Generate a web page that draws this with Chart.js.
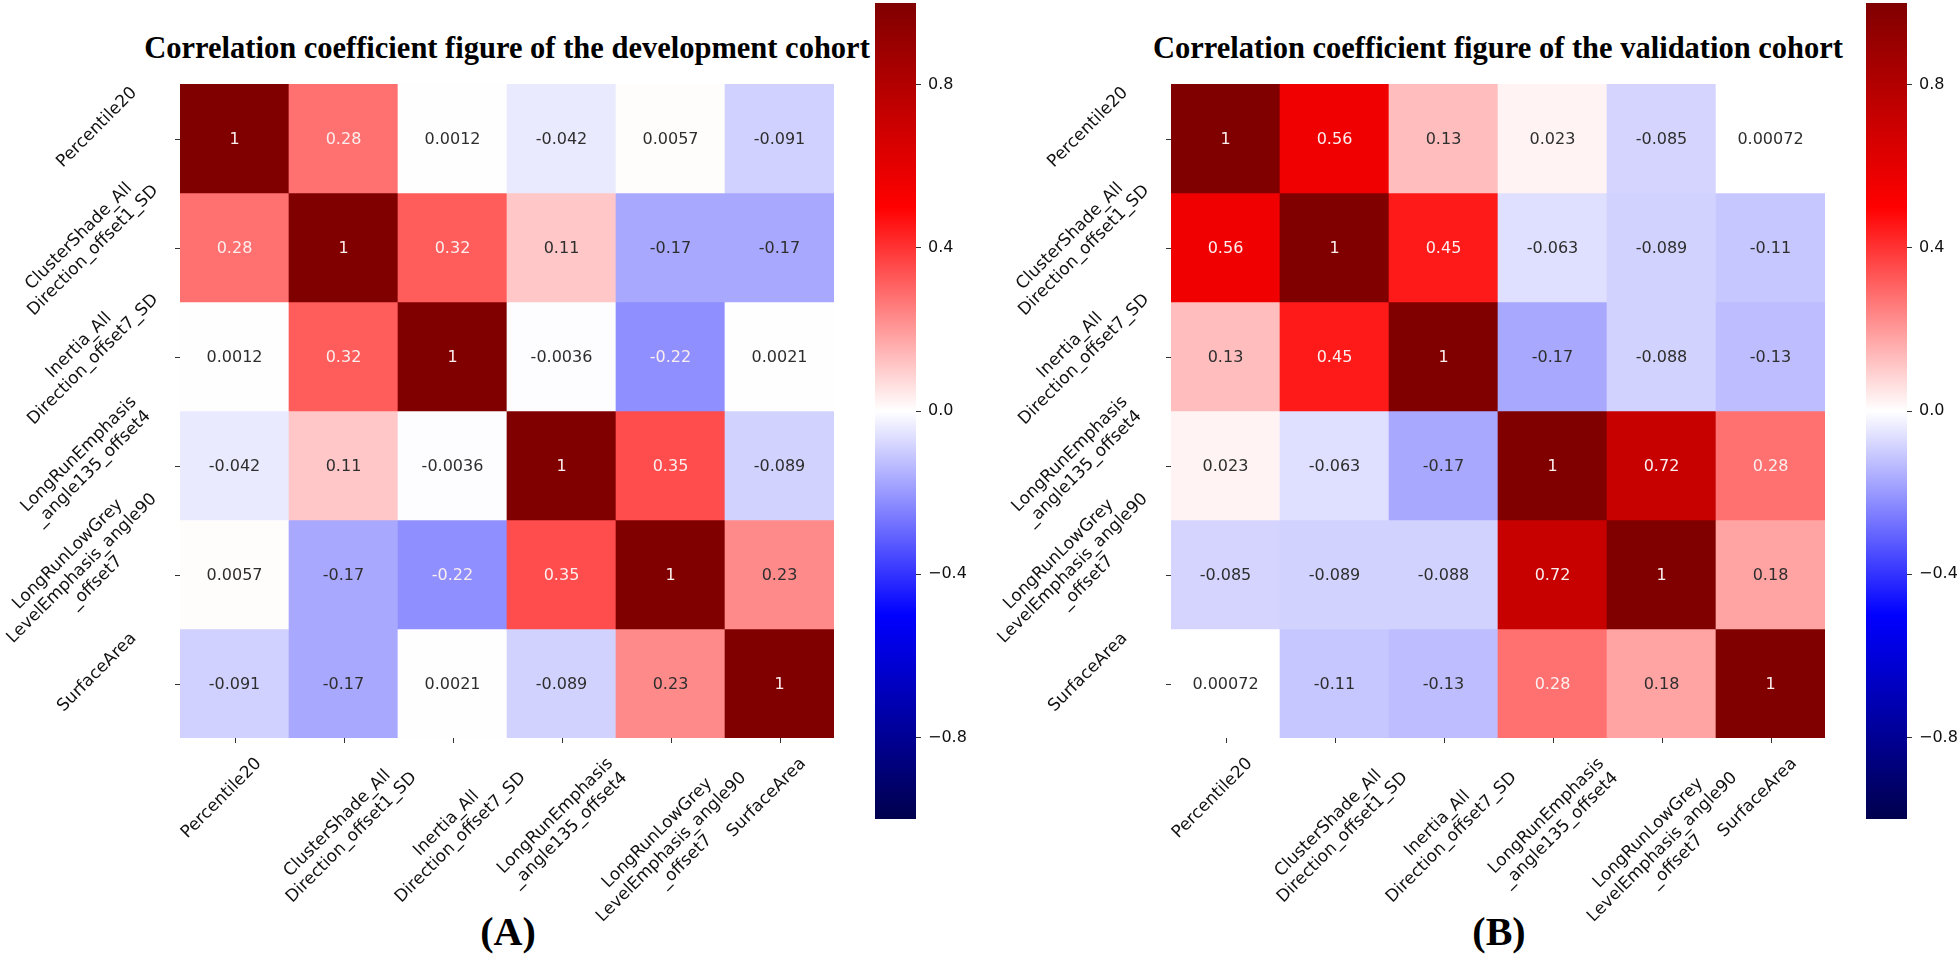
<!DOCTYPE html>
<html>
<head>
<meta charset="utf-8">
<title>Correlation coefficient figures</title>
<script src="https://cdn.jsdelivr.net/npm/chart.js@4.4.1/dist/chart.umd.min.js"></script>
<style>
    html, body { margin: 0; padding: 0; background: #fff; }
    body { width: 1960px; height: 963px; position: relative; overflow: hidden; }
    canvas { position: absolute; }
    .title {
        position: absolute; top: 33px; width: 1000px; text-align: center; white-space: nowrap;
        font: bold 30.5px "Liberation Serif", "Times New Roman", serif; line-height: 31px; color: #000;
    }
    .tag {
        position: absolute; top: 912px; width: 200px; text-align: center;
        font: bold 40px "Liberation Serif", "Times New Roman", serif; line-height: 40px; color: #000;
    }
</style>
</head>
<body>
<div class="title" style="left:7px">Correlation coefficient figure of the development cohort</div>
<div class="title" style="left:998px">Correlation coefficient figure of the validation cohort</div>
<div class="tag" style="left:408px">(A)</div>
<div class="tag" style="left:1399px">(B)</div>

<canvas id="heatA" width="860" height="963" style="left:0;top:0"></canvas>
<canvas id="barA" width="109" height="1000" style="left:860px;top:-30px"></canvas>
<canvas id="heatB" width="860" height="963" style="left:991px;top:0"></canvas>
<canvas id="barB" width="109" height="1000" style="left:1851px;top:-30px"></canvas>

<script>
// Nombres de las variables (mismas en ambos ejes)
const features = [
    ['Percentile20'],
    ['ClusterShade_All', 'Direction_offset1_SD'],
    ['Inertia_All', 'Direction_offset7_SD'],
    ['LongRunEmphasis', '_angle135_offset4'],
    ['LongRunLowGrey', 'LevelEmphasis_angle90', '_offset7'],
    ['SurfaceArea']
];

// Matriz de correlación - cohorte de desarrollo
const developmentCorr = [
    [1, 0.28, 0.0012, -0.042, 0.0057, -0.091],
    [0.28, 1, 0.32, 0.11, -0.17, -0.17],
    [0.0012, 0.32, 1, -0.0036, -0.22, 0.0021],
    [-0.042, 0.11, -0.0036, 1, 0.35, -0.089],
    [0.0057, -0.17, -0.22, 0.35, 1, 0.23],
    [-0.091, -0.17, 0.0021, -0.089, 0.23, 1]
];

// Matriz de correlación - cohorte de validación
const validationCorr = [
    [1, 0.56, 0.13, 0.023, -0.085, 0.00072],
    [0.56, 1, 0.45, -0.063, -0.089, -0.11],
    [0.13, 0.45, 1, -0.17, -0.088, -0.13],
    [0.023, -0.063, -0.17, 1, 0.72, 0.28],
    [-0.085, -0.089, -0.088, 0.72, 1, 0.18],
    [0.00072, -0.11, -0.13, 0.28, 0.18, 1]
];

const colorbarTicks = [0.8, 0.4, 0, -0.4, -0.8];

// mapa de color "seismic"
const seismicStops = [
    [0, [0, 0, 77]],
    [0.25, [0, 0, 255]],
    [0.5, [255, 255, 255]],
    [0.75, [255, 0, 0]],
    [1, [128, 0, 0]]
];

function seismicRgb(v) {
    const t = Math.min(1, Math.max(0, (v + 1) / 2));
    for (let i = 1; i < seismicStops.length; i++) {
        const [t1, c1] = seismicStops[i];
        if (t <= t1) {
            const [t0, c0] = seismicStops[i - 1];
            const f = (t - t0) / (t1 - t0);
            return c0.map((c, k) => Math.round(c + (c1[k] - c) * f));
        }
    }
    return seismicStops[seismicStops.length - 1][1];
}

function seismic(v) {
    const c = seismicRgb(v);
    return 'rgb(' + c[0] + ',' + c[1] + ',' + c[2] + ')';
}

// texto claro u oscuro según la luminancia de la celda
function textColorFor(v) {
    const lin = seismicRgb(v).map(c => {
        c = c / 255;
        return c <= 0.03928 ? c / 12.92 : Math.pow((c + 0.055) / 1.055, 2.4);
    });
    const lum = 0.2126 * lin[0] + 0.7152 * lin[1] + 0.0722 * lin[2];
    return lum > 0.408 ? '#2e2e2e' : '#fbeeee';
}

function fmt2g(v) {
    return String(Number(v.toPrecision(2)));
}

const cellFont = '16px "DejaVu Sans"';
const labelFont = '17px "DejaVu Sans"';
const lineH = 20;

function drawRotated(ctx, lines, cx, cy) {
    ctx.save();
    ctx.translate(cx, cy);
    ctx.rotate(-Math.PI / 4);
    ctx.textAlign = 'center';
    ctx.textBaseline = 'middle';
    lines.forEach((line, k) => {
        ctx.fillText(line, 0, (k - (lines.length - 1) / 2) * lineH);
    });
    ctx.restore();
}

const heatmapDecor = {
    id: 'heatmapDecor',
    afterDatasetsDraw(chart, args, opts) {
        const ctx = chart.ctx;
        const area = chart.chartArea;
        const xs = chart.scales.x;
        const ys = chart.scales.y;
        const values = opts.values;
        ctx.save();

        // valores en cada celda
        ctx.font = cellFont;
        ctx.textAlign = 'center';
        ctx.textBaseline = 'middle';
        chart.data.datasets.forEach((ds, r) => {
            chart.getDatasetMeta(r).data.forEach((bar, c) => {
                const p = bar.getCenterPoint();
                ctx.fillStyle = textColorFor(values[r][c]);
                ctx.fillText(fmt2g(values[r][c]), p.x, p.y + 1);
            });
        });

        ctx.strokeStyle = '#333';
        ctx.lineWidth = 1;
        ctx.fillStyle = '#111';
        ctx.font = labelFont;

        // eje x
        features.forEach((lines, i) => {
            const tx = Math.round(xs.getPixelForValue(i)) + 0.5;
            ctx.beginPath();
            ctx.moveTo(tx, area.bottom);
            ctx.lineTo(tx, area.bottom + 5);
            ctx.stroke();
            const w = Math.max(...lines.map(l => ctx.measureText(l).width));
            const half = (w + lines.length * lineH) * Math.SQRT1_2 / 2;
            const cx = tx + (lines.length === 1 ? -14 : 0);
            drawRotated(ctx, lines, cx, area.bottom + 16 + half);
        });

        // eje y
        features.forEach((lines, i) => {
            const ty = Math.round(ys.getPixelForValue(i + 0.5)) + 0.5;
            ctx.beginPath();
            ctx.moveTo(area.left - 5, ty);
            ctx.lineTo(area.left, ty);
            ctx.stroke();
            let dx = -83, dy = -12;
            if (lines.length === 2) { dx = -94; dy = -5; }
            if (lines.length === 3) { dx = -98; dy = -7; }
            drawRotated(ctx, lines, area.left + dx, ty + dy);
        });

        ctx.restore();
    }
};

function makeHeatmap(canvasId, values) {
    const datasets = values.map((row, r) => ({
        data: row.map(() => [r, r + 1]),
        backgroundColor: row.map(v => seismic(v)),
        borderWidth: 0,
        barPercentage: 1,
        categoryPercentage: 1,
        grouped: false
    }));
    return new Chart(document.getElementById(canvasId), {
        type: 'bar',
        data: {
            labels: features.map(f => f.join(' ')),
            datasets: datasets
        },
        options: {
            responsive: false,
            animation: false,
            devicePixelRatio: 1,
            events: [],
            layout: { padding: { left: 180, top: 84, right: 26, bottom: 225 } },
            plugins: {
                legend: { display: false },
                tooltip: { enabled: false },
                heatmapDecor: { values: values }
            },
            scales: {
                x: { type: 'category', display: false },
                y: { type: 'linear', display: false, min: 0, max: 6, reverse: true }
            }
        },
        plugins: [heatmapDecor]
    });
}

function makeColorbar(canvasId) {
    return new Chart(document.getElementById(canvasId), {
        type: 'bar',
        data: {
            labels: ['r'],
            datasets: [{
                data: [[-1, 1]],
                borderWidth: 0,
                barPercentage: 1,
                categoryPercentage: 1,
                backgroundColor: function(context) {
                    const chart = context.chart;
                    const area = chart.chartArea;
                    if (!area) return '#fff';
                    const g = chart.ctx.createLinearGradient(0, area.bottom, 0, area.top);
                    seismicStops.forEach(([t, c]) => g.addColorStop(t, 'rgb(' + c.join(',') + ')'));
                    return g;
                }
            }]
        },
        options: {
            responsive: false,
            animation: false,
            devicePixelRatio: 1,
            events: [],
            layout: { padding: { left: 15, top: 33, right: 3, bottom: 151 } },
            plugins: {
                legend: { display: false },
                tooltip: { enabled: false }
            },
            scales: {
                x: { display: false },
                y: {
                    position: 'right',
                    min: -1,
                    max: 1,
                    afterBuildTicks: function(scale) {
                        scale.ticks = colorbarTicks.map(v => ({ value: v }));
                    },
                    afterFit: function(scale) {
                        scale.width = 50;
                    },
                    border: { display: false },
                    grid: { drawOnChartArea: false, tickLength: 5, color: '#333' },
                    ticks: {
                        padding: 7,
                        color: '#111',
                        font: { family: 'DejaVu Sans', size: 16 },
                        callback: function(value) {
                            return (value < 0 ? '\u2212' : '') + Math.abs(value).toFixed(1);
                        }
                    }
                }
            }
        }
    });
}

makeHeatmap('heatA', developmentCorr);
makeColorbar('barA');
makeHeatmap('heatB', validationCorr);
makeColorbar('barB');
</script>
</body>
</html>
